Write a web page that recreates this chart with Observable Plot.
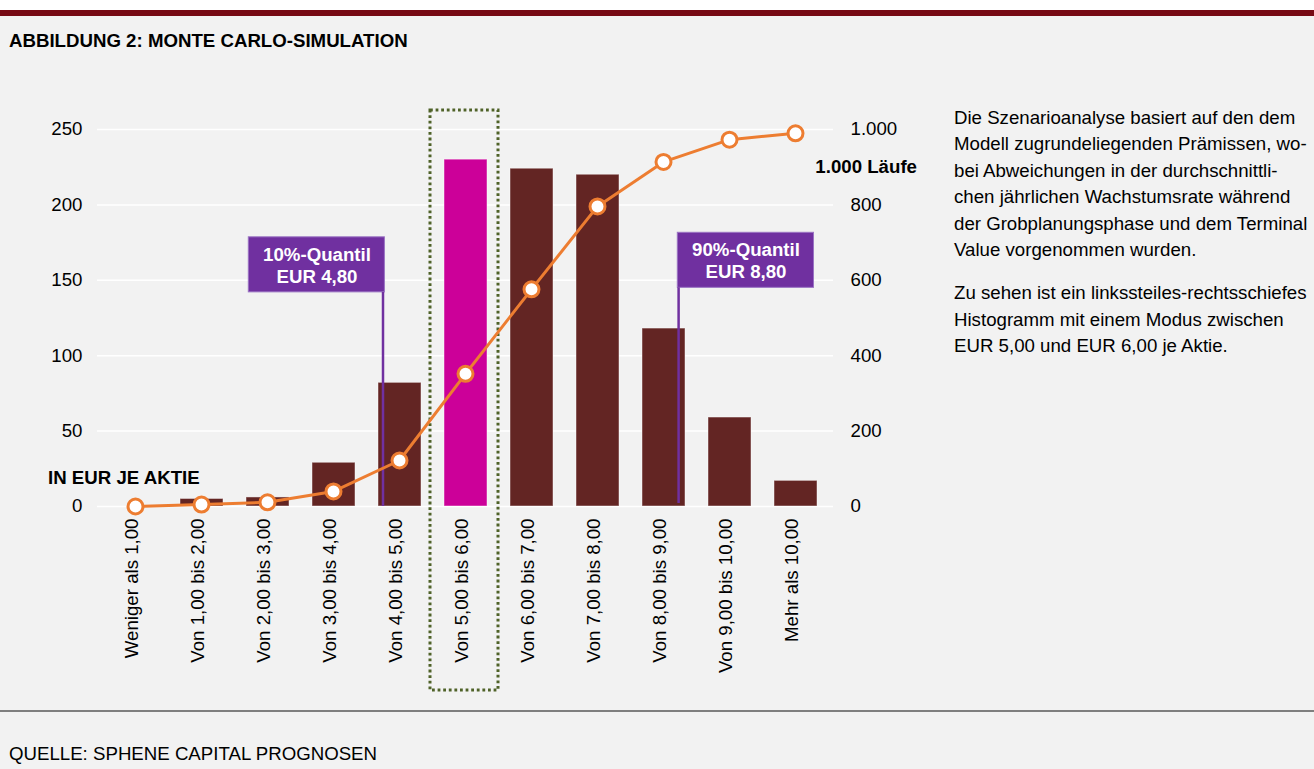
<!DOCTYPE html>
<html><head><meta charset="utf-8">
<script src="https://cdn.jsdelivr.net/npm/d3@7"></script>
<script src="https://cdn.jsdelivr.net/npm/@observablehq/plot@0.6"></script>
<style>
html,body{margin:0;padding:0;background:#f2f2f2;}
#page{position:relative;width:1314px;height:769px;background:#f2f2f2;font-family:"Liberation Sans",Arial,sans-serif;color:#000;overflow:hidden;}
.topwhite{position:absolute;left:0;top:0;width:1314px;height:10px;background:#fff;}
.redbar{position:absolute;left:0;top:10px;width:1314px;height:5.5px;background:#770a14;}
.title{position:absolute;left:9px;top:30px;font-size:18.67px;line-height:22px;font-weight:bold;white-space:nowrap;}
#chart{position:absolute;left:0;top:100px;width:940px;height:600px;}
#chart svg{position:absolute;left:0;top:0;overflow:visible;}
.lbl{position:absolute;font-size:18.67px;line-height:22px;font-weight:bold;white-space:nowrap;}
.note{position:absolute;left:954px;top:104.75px;font-size:18.67px;line-height:26.5px;white-space:nowrap;}
.note p{margin:0 0 16.3px 0;}
.sep{position:absolute;left:0;top:710px;width:1314px;height:2px;background:#7f7f7f;}
.source{position:absolute;left:9px;top:743px;font-size:18.67px;line-height:22px;white-space:nowrap;}
</style></head><body>
<div id="page">
  <div class="topwhite"></div><div class="redbar"></div>
  <div class="title">ABBILDUNG 2: MONTE CARLO-SIMULATION</div>
  <div id="chart"></div>
  <div class="lbl" style="left:48px;top:466.7px;">IN EUR JE AKTIE</div>
  <div class="lbl" style="right:397px;top:155.7px;">1.000 Läufe</div>
  <div class="note">
    <p>Die Szenarioanalyse basiert auf den dem<br>Modell zugrundeliegenden Prämissen, wo-<br>bei Abweichungen in der durchschnittli-<br>chen jährlichen Wachstumsrate während<br>der Grobplanungsphase und dem Terminal<br>Value vorgenommen wurden.</p>
    <p>Zu sehen ist ein linkssteiles-rechtsschiefes<br>Histogramm mit einem Modus zwischen<br>EUR 5,00 und EUR 6,00 je Aktie.</p>
  </div>
  <div class="sep"></div>
  <div class="source">QUELLE: SPHENE CAPITAL PROGNOSEN</div>
</div>
<script>
// ---- data ----
const categories = ["Weniger als 1,00","Von 1,00 bis 2,00","Von 2,00 bis 3,00","Von 3,00 bis 4,00","Von 4,00 bis 5,00","Von 5,00 bis 6,00","Von 6,00 bis 7,00","Von 7,00 bis 8,00","Von 8,00 bis 9,00","Von 9,00 bis 10,00","Mehr als 10,00"];
const counts = [0, 5, 6, 29, 82, 230, 224, 220, 118, 59, 17];
const cumulative = [0, 5, 11, 40, 122, 352, 576, 796, 914, 973, 990];
const leftTicks = [0, 50, 100, 150, 200, 250];
const rightTicks = [0, 200, 400, 600, 800, 1000];
const highlightCategory = "Von 5,00 bis 6,00";
const quantileCategories = ["Von 4,00 bis 5,00", "Von 8,00 bis 9,00"];
const quantileLabels = ["10%-Quantil\nEUR 4,80", "90%-Quantil\nEUR 8,80"];
const quantileBoxLow = [142, 145];
const quantileBoxHigh = [178.5, 181.5];

// ---- build ----
const de = d3.formatLocale({decimal: ",", thousands: ".", grouping: [3], currency: ["", " €"]});
const fmt = de.format(",");
const rows = categories.map((c, i) => ({cat: c, count: counts[i], cum: cumulative[i]}));
const annots = quantileCategories.map((c, i) => ({cat: c, label: quantileLabels[i], lo: quantileBoxLow[i], hi: quantileBoxHigh[i], mid: (quantileBoxLow[i] + quantileBoxHigh[i]) / 2}));

const FONT = '"Liberation Sans", Arial, sans-serif';
const common = {
  width: 940, height: 600,
  marginTop: 29, marginBottom: 194, marginLeft: 97, marginRight: 107,
  style: {background: "transparent", fontFamily: FONT, fontSize: "18.67px", color: "#000", overflow: "visible"}
};
const xOpts = {domain: categories, paddingInner: 0.35, paddingOuter: 0.175};
const PURPLE = "#7030a0";

const hasAxisMark = typeof Plot.axisX === "function";
const xAxisMarks = hasAxisMark
  ? [Plot.axisX({tickSize: 0, tickPadding: 12, tickRotate: -90, label: null, dx: -4})]
  : [];

const chart1 = Plot.plot({
  ...common,
  x: hasAxisMark ? {...xOpts, label: null} : {...xOpts, tickSize: 0, tickPadding: 12, tickRotate: -90, label: null},
  y: {domain: [0, 250], ticks: leftTicks, tickSize: 0, tickPadding: 15, tickFormat: fmt, label: null},
  marks: [
    Plot.ruleY(leftTicks, {stroke: "#ffffff", strokeWidth: 1.5}),
    ...xAxisMarks,
    Plot.barY(rows.filter(d => d.cat !== highlightCategory), {x: "cat", y: "count", fill: "#632523", stroke: "#ffffff", strokeOpacity: 0.45, strokeWidth: 1}),
    Plot.barY(rows.filter(d => d.cat === highlightCategory), {x: "cat", y: "count", fill: "#cc0099", stroke: "#ffffff", strokeOpacity: 0.45, strokeWidth: 1}),
    // 10% annotation
    Plot.barY([annots[0]], {x: "cat", y1: "lo", y2: "hi", fill: PURPLE, stroke: "#9b74c4", strokeWidth: 1, insetLeft: -129.7, insetRight: 36.6}),
    Plot.ruleX([annots[0]], {x: "cat", y1: 0, y2: "lo", stroke: PURPLE, strokeWidth: 2.5, dx: -17}),
    Plot.text([annots[0]], {x: "cat", y: "mid", text: "label", fill: "#ffffff", fontWeight: "bold", fontSize: 18.67, lineHeight: 1.16, dx: -83}),
    // 90% annotation
    Plot.barY([annots[1]], {x: "cat", y1: "lo", y2: "hi", fill: PURPLE, stroke: "#9b74c4", strokeWidth: 1, insetLeft: 35.3, insetRight: -128.5}),
    Plot.ruleX([annots[1]], {x: "cat", y1: 2, y2: "lo", stroke: PURPLE, strokeWidth: 2.5, dx: 14.6}),
    Plot.text([annots[1]], {x: "cat", y: "mid", text: "label", fill: "#ffffff", fontWeight: "bold", fontSize: 18.67, lineHeight: 1.16, dx: 82})
  ]
});

const chart2 = Plot.plot({
  ...common,
  x: {...xOpts, axis: null},
  y: {domain: [0, 1000], ticks: rightTicks, axis: "right", tickSize: 0, tickPadding: 17, tickFormat: fmt, label: null},
  marks: [
    Plot.line(rows, {x: "cat", y: "cum", stroke: "#ed7d31", strokeWidth: 3}),
    Plot.dot(rows, {x: "cat", y: "cum", r: 7.5, fill: "#ffffff", stroke: "#ed7d31", strokeWidth: 3})
  ]
});

const holder = document.getElementById("chart");
holder.appendChild(chart1);
holder.appendChild(chart2);

// dotted highlight frame around the modal class, positioned from the x scale
const sx = chart1.scale("x");
const bandStart = sx.apply(highlightCategory);
const center = bandStart + sx.bandwidth / 2;
d3.select(chart1).append("rect")
  .attr("x", center - sx.step / 2 - 2.5)
  .attr("width", sx.step + 2)
  .attr("y", 10)
  .attr("height", 580)
  .attr("fill", "none")
  .attr("stroke", "#4f6228")
  .attr("stroke-width", 3)
  .attr("stroke-dasharray", "2.8,2.8");
</script>
</body></html>
